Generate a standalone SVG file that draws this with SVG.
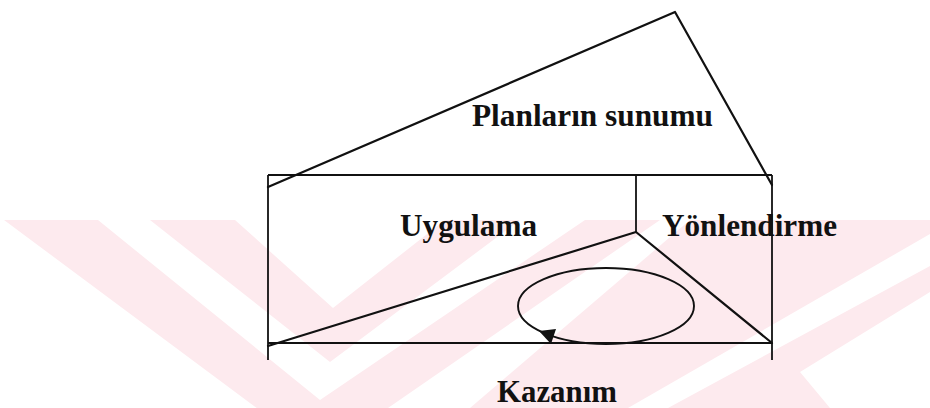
<svg xmlns="http://www.w3.org/2000/svg" width="930" height="408" viewBox="0 0 930 408">
  <style>
    .ln { fill: none; stroke: #111; stroke-width: 2.2; stroke-linecap: round; stroke-linejoin: round; }
    .bx { fill: none; stroke: #111; stroke-width: 1.8; }
    .lbl { font-family: "Liberation Serif", "Times New Roman", serif; font-weight: bold; font-size: 31px; fill: #111; }
    .wm { fill: #fdeaee; }
  </style>
  <defs>
    <clipPath id="wmclip"><rect x="0" y="220" width="930" height="188"/></clipPath>
  </defs>
  <rect width="930" height="408" fill="#ffffff"/>
  <g id="watermark" clip-path="url(#wmclip)">
    <polygon class="wm" points="4,220 320,455 660,220 585,220 320,400 98,220"/>
    <polygon class="wm" points="150,220 330,362 520,220 445,220 333,308 235,220"/>
    <polygon class="wm" points="690,220 930,220 930,234 628,408 470,408"/>
    <polygon class="wm" points="930,266 930,292 800,372 830,408 668,408"/>
  </g>
  <g id="frame">
    <line class="bx" x1="268" y1="175" x2="772" y2="175"/>
    <line class="bx" x1="268" y1="175" x2="268" y2="360"/>
    <line class="bx" x1="772" y1="175" x2="772" y2="360"/>
    <line class="bx" x1="636" y1="175" x2="636" y2="232"/>
    <line class="bx" x1="268" y1="343" x2="772" y2="343"/>
  </g>
  <g id="connectors">
    <polyline class="ln" points="268,187 675,12 772,185"/>
    <polyline class="ln" points="268,346 636,232 772,343"/>
    <ellipse cx="606" cy="306" rx="88" ry="38" fill="none" stroke="#111" stroke-width="1.9"/>
    <polygon points="539,331 556,329 551,344" fill="#111"/>
  </g>
  <g id="planlarin-sunumu"><text class="lbl" x="472" y="126" textLength="241" lengthAdjust="spacingAndGlyphs">Planların sunumu</text></g>
  <g id="uygulama"><text class="lbl" x="400" y="236" textLength="137" lengthAdjust="spacingAndGlyphs">Uygulama</text></g>
  <g id="yonlendirme"><text class="lbl" x="662" y="236" textLength="175" lengthAdjust="spacingAndGlyphs">Yönlendirme</text></g>
  <g id="kazanim"><text class="lbl" x="497" y="402" textLength="120" lengthAdjust="spacingAndGlyphs">Kazanım</text></g>
</svg>
